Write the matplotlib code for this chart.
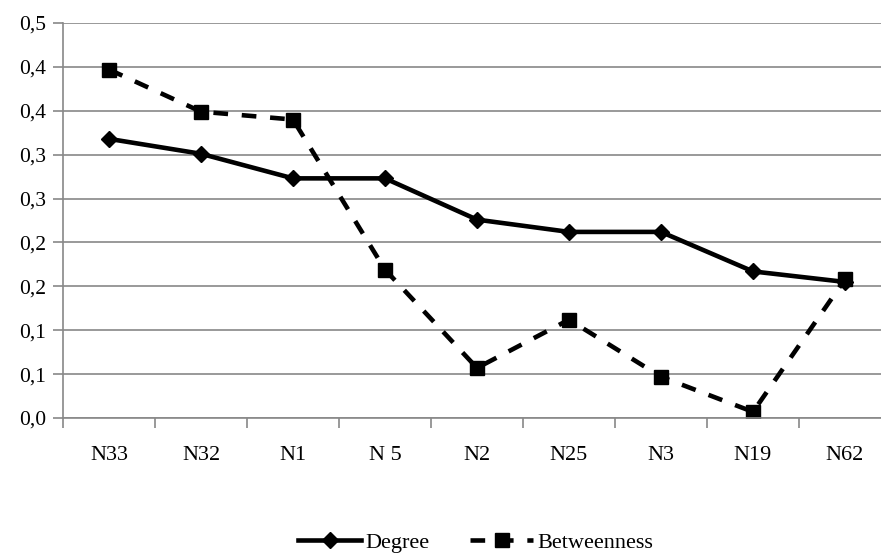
import matplotlib.pyplot as plt
from matplotlib.ticker import FixedLocator, FuncFormatter

# node names and centrality scores
nodes = ["N33", "N32", "N1", "N 5", "N2", "N25", "N3", "N19", "N62"]
degree = [0.318, 0.301, 0.273, 0.273, 0.226, 0.212, 0.212, 0.167, 0.155]
betweenness = [0.397, 0.349, 0.340, 0.169, 0.057, 0.112, 0.047, 0.007, 0.158]

plt.rcParams['font.family'] = ['Liberation Serif', 'DejaVu Serif']

fig = plt.figure(figsize=(8.81, 5.54), dpi=100)
ax = fig.add_axes([63 / 881, 136 / 554, 828 / 881, 395 / 554])

x = list(range(len(nodes)))
ax.plot(x, degree, color='black', lw=3.3, marker='D', ms=8,
        label='Degree', solid_joinstyle='round')
ax.plot(x, betweenness, color='black', lw=3.3, ls=(0, (3.2, 3.0)),
        marker='s', ms=10.5, label='Betweenness')

ax.set_xlim(-0.5, len(nodes) - 0.5)
ax.set_ylim(0, 0.45)

yt = [i * 0.05 for i in range(10)]
ax.set_yticks(yt)
ax.yaxis.set_major_formatter(FuncFormatter(
    lambda v, p: ('%.1f' % (v + 1e-9)).replace('.', ',')))
ax.grid(axis='y', color='#888888', lw=1.2)
ax.set_axisbelow(True)

ax.set_xticks(x)
ax.set_xticklabels(nodes)
ax.xaxis.set_minor_locator(FixedLocator([i - 0.5 for i in range(len(nodes) + 1)]))
ax.tick_params(axis='x', which='major', length=0, pad=20, labelsize=16)
ax.tick_params(axis='x', which='minor', length=7, color='#888888', width=1.2)
ax.tick_params(axis='y', length=7, color='#888888', width=1.2, pad=5,
               labelsize=15.5)

for s in ['top', 'right']:
    ax.spines[s].set_visible(False)
for s in ['left', 'bottom']:
    ax.spines[s].set_color('#888888')
    ax.spines[s].set_linewidth(1.2)

fig.legend(loc='center', bbox_to_anchor=(0.54, 0.02), ncol=2, frameon=False,
           fontsize=16, handlelength=2.85, handletextpad=0.2,
           columnspacing=1.8)

fig.savefig('out.png', dpi=100)
